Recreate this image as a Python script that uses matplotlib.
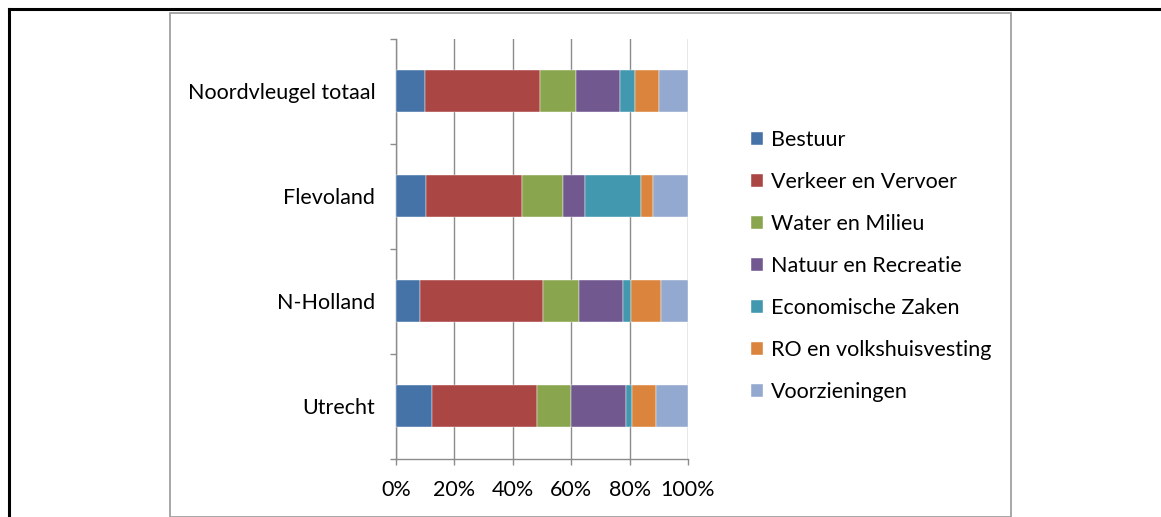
import matplotlib
matplotlib.use("Agg")
import matplotlib.pyplot as plt
from matplotlib.lines import Line2D
from matplotlib.patches import Rectangle

plt.rcParams['font.family'] = ['Lato', 'DejaVu Sans']

regions = ["Utrecht", "N-Holland", "Flevoland", "Noordvleugel totaal"]
series_names = ["Bestuur", "Verkeer en Vervoer", "Water en Milieu", "Natuur en Recreatie",
                "Economische Zaken", "RO en volkshuisvesting", "Voorzieningen"]
colors = ["#4572A7", "#AA4643", "#89A54E", "#71588F", "#4198AF", "#DB843D", "#93A9CF"]

# percentages per region (Utrecht, N-Holland, Flevoland, Noordvleugel totaal)
bestuur = [12.3, 8.3, 10.3, 10.1]
verkeer = [36.1, 42.0, 32.9, 39.3]
water = [11.7, 12.2, 14.0, 12.2]
natuur = [18.6, 15.2, 7.6, 15.2]
economie = [2.2, 2.7, 19.1, 5.1]
ro = [8.2, 10.3, 4.1, 8.1]
voorzieningen = [10.9, 9.3, 12.0, 10.0]
series = [bestuur, verkeer, water, natuur, economie, ro, voorzieningen]
x_ticks = [0, 20, 40, 60, 80, 100]
x_labels = ["0%", "20%", "40%", "60%", "80%", "100%"]

FS = 15.5
W, H = 1161, 517
fig = plt.figure(figsize=(W / 100, H / 100), dpi=100)
fig.patch.set_facecolor("white")

# frames
fig.add_artist(Rectangle((170 / W, 1 - 516.5 / H), (1011 - 170) / W, (516.5 - 12.5) / H,
                         transform=fig.transFigure, fill=False, edgecolor="#A0A0A0", lw=1.3))
fig.add_artist(Line2D([9 / W, 9 / W], [0, 1 - 9 / H], transform=fig.transFigure, color="black", lw=2.2))
fig.add_artist(Line2D([9 / W, 1], [1 - 9 / H, 1 - 9 / H], transform=fig.transFigure, color="black", lw=2.2))

left, right = 396 / W, 688 / W
top, bottom = 1 - 38.5 / H, 1 - 458.5 / H
ax = fig.add_axes([left, bottom, right - left, top - bottom])

ypos = list(range(len(regions)))
cum = [0.0] * len(regions)
handles = []
for name, vals, col in zip(series_names, series, colors):
    b = ax.barh(ypos, vals, left=cum, height=0.4, color=col, edgecolor="white", linewidth=0.3, label=name, zorder=3)
    handles.append(b)
    cum = [c + v for c, v in zip(cum, vals)]

ax.set_xlim(0, 100)
ax.set_ylim(-0.5, 3.5)
gridc = "#8C8C8C"
ax.set_xticks(x_ticks)
ax.set_xticklabels(x_labels, fontsize=FS)
ax.xaxis.grid(True, color=gridc, lw=1.0, zorder=0)
ax.set_yticks([-0.5, 0.5, 1.5, 2.5, 3.5])
ax.set_yticklabels([])
ax.set_yticks(ypos, minor=True)
ax.set_yticklabels(regions, minor=True, fontsize=FS)
ax.tick_params(axis="y", which="major", length=4, color=gridc, width=1.0, direction="out")
ax.tick_params(axis="y", which="minor", length=0, pad=15)
ax.tick_params(axis="x", length=4.5, color=gridc, width=1.0, direction="out", pad=11)
for s in ["top", "right"]:
    ax.spines[s].set_visible(False)
for s in ["left", "bottom"]:
    ax.spines[s].set_color(gridc)
    ax.spines[s].set_linewidth(1.0)

leg = fig.legend(handles=handles, labels=series_names, loc="upper left",
                 bbox_to_anchor=(751 / W, 1 - 130 / H), frameon=False, fontsize=FS,
                 handlelength=0.56, handleheight=0.56, handletextpad=0.35, labelspacing=1.02,
                 borderaxespad=0, borderpad=0)

fig.savefig("out.png", dpi=100, facecolor="white")
